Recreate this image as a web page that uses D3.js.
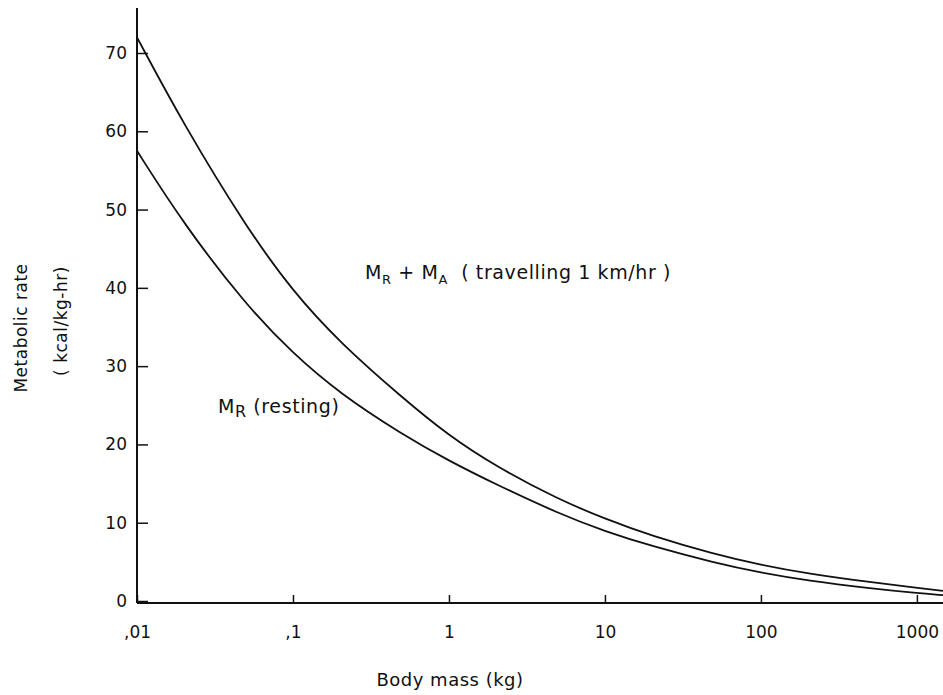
<!DOCTYPE html>
<html>
<head>
<meta charset="utf-8" />
<title>Metabolic rate vs body mass</title>
<script src="https://cdn.jsdelivr.net/npm/d3@7"></script>
<style>
    body { margin: 0; background: #fff; }
    text { font-family: "DejaVu Sans", sans-serif; fill: #111; }
</style>
</head>
<body>
<script>
    // body mass (kg) and the two curves
    var mass = [0.01, 0.02, 0.05, 0.1, 0.2, 0.5, 1, 2, 5, 10, 20, 50, 100, 200, 500, 1000, 1470]
    var resting = [57.5, 48.1, 37.8, 31.6, 26.5, 21.3, 17.9, 14.9, 11.2, 8.9, 7.0, 4.9, 3.6, 2.6, 1.6, 1.0, 0.75]
    var travelling = [72, 60.8, 47.8, 39.5, 33.0, 26.0, 21.1, 17.2, 13.0, 10.5, 8.3, 6.0, 4.6, 3.5, 2.4, 1.7, 1.3]
    var xTicks = [0.01, 0.1, 1, 10, 100, 1000]
    var xTickLabels = [",01", ",1", "1", "10", "100", "1000"]
    var yTicks = [0, 10, 20, 30, 40, 50, 60, 70]

    var W = 943, H = 695
    var svg = d3.select("body").append("svg").attr("width", W).attr("height", H)

    var x = d3.scaleLog().domain([0.01, 1470]).range([137, 943])
    var y = d3.scaleLinear().domain([0, 70]).range([601, 53])
    var baseY = 603

    // y axis
    var yAxis = svg.append("g").attr("transform", "translate(137,0)")
        .call(d3.axisLeft(y).tickValues(yTicks).tickSizeInner(-11).tickSizeOuter(0).tickPadding(10))
    yAxis.select(".domain").remove()
    yAxis.selectAll(".tick line").attr("stroke", "#111").attr("stroke-width", 1.5)
    yAxis.selectAll("text").style("font-size", "17px")
    svg.append("line").attr("x1", 137).attr("x2", 137).attr("y1", 8).attr("y2", baseY)
        .attr("stroke", "#111").attr("stroke-width", 2)

    // x axis
    var xAxis = svg.append("g").attr("transform", "translate(0," + baseY + ")")
        .call(d3.axisBottom(x).tickValues(xTicks).tickFormat(function (d, i) { return xTickLabels[i] })
            .tickSizeInner(-8).tickSizeOuter(0).tickPadding(23))
    xAxis.select(".domain").remove()
    xAxis.selectAll(".tick line").attr("stroke", "#111").attr("stroke-width", 1.5)
    xAxis.selectAll("text").style("font-size", "17px")
    svg.append("line").attr("x1", 137).attr("x2", W).attr("y1", baseY).attr("y2", baseY)
        .attr("stroke", "#111").attr("stroke-width", 2)

    // curves
    var line = d3.line()
        .x(function (d) { return x(d[0]) })
        .y(function (d) { return y(d[1]) })
        .curve(d3.curveBasis)
    ;[resting, travelling].forEach(function (s) {
        svg.append("path")
            .datum(mass.map(function (m, i) { return [m, s[i]] }))
            .attr("d", line)
            .attr("fill", "none")
            .attr("stroke", "#111")
            .attr("stroke-width", 1.8)
    })

    // annotations
    var t1 = svg.append("text").attr("x", 365).attr("y", 279).style("font-size", "19px")
        .style("letter-spacing", "0.6px").attr("xml:space", "preserve")
    t1.append("tspan").text("M")
    t1.append("tspan").attr("dy", 5).style("font-size", "13px").text("R")
    t1.append("tspan").attr("dy", -5).text(" + M")
    t1.append("tspan").attr("dy", 5).style("font-size", "13px").text("A")
    t1.append("tspan").attr("dy", -5).text("  ( travelling 1 km/hr )")

    var t2 = svg.append("text").attr("x", 218).attr("y", 413).style("font-size", "19px")
        .style("letter-spacing", "0.6px")
    t2.append("tspan").text("M")
    t2.append("tspan").attr("dy", 4).style("font-size", "16px").text("R")
    t2.append("tspan").attr("dy", -4).text(" (resting)")

    // axis titles
    svg.append("text").attr("x", 450).attr("y", 686).attr("text-anchor", "middle")
        .style("font-size", "18px").style("letter-spacing", "0.5px").text("Body mass (kg)")
    svg.append("text").attr("transform", "translate(27,328) rotate(-90)").attr("text-anchor", "middle")
        .style("font-size", "17px").style("letter-spacing", "0.5px").text("Metabolic  rate")
    svg.append("text").attr("transform", "translate(67,321) rotate(-90)").attr("text-anchor", "middle")
        .style("font-size", "17px").style("letter-spacing", "0.5px").text("( kcal/kg-hr)")
</script>
</body>
</html>
